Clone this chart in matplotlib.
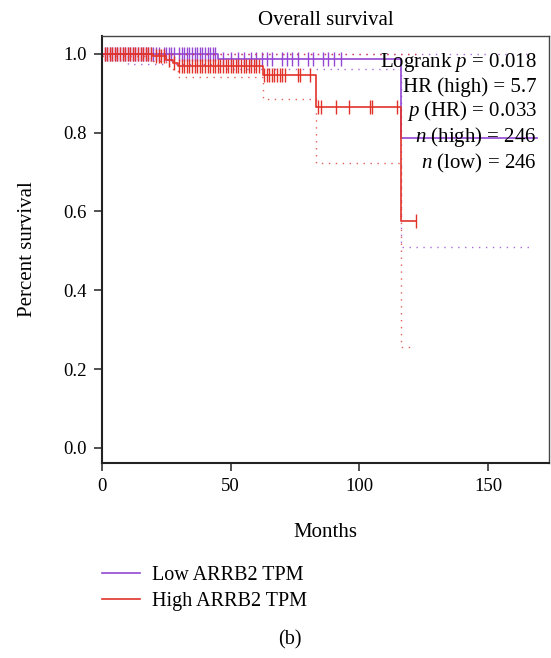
import numpy as np
import matplotlib
matplotlib.use("Agg")
import matplotlib.pyplot as plt
from matplotlib.lines import Line2D

plt.rcParams['font.family'] = ['Liberation Serif', 'DejaVu Serif']
plt.rcParams['mathtext.fontset'] = 'custom'
plt.rcParams['mathtext.it'] = 'Liberation Serif:italic'
plt.rcParams['mathtext.rm'] = 'Liberation Serif'

# ---- data ----
low_times = [0, 45, 116, 169]
low_surv = [1.0, 0.986, 0.787, 0.787]
low_ci_lo_times = [0, 10, 45, 116, 168]
low_ci_lo = [1.0, 0.975, 0.962, 0.51, 0.51]
low_ci_hi_times = [0, 169]
low_ci_hi = [1.0, 1.0]
low_censor = [1, 2, 3, 4, 5, 6, 7, 8, 9, 10, 11, 12, 13, 14, 15, 16, 17, 18, 19, 20,
              21, 22, 24, 25, 26, 27, 28, 30, 31, 32, 33, 34, 35, 36, 37, 38, 39, 40,
              41, 42, 43, 44, 47, 50, 53, 55, 58, 60, 62, 64, 66, 70, 72, 74, 76, 80,
              82, 86, 88, 90, 93]

high_times = [0, 20, 25, 27.5, 29.5, 62.5, 83, 116, 122]
high_surv = [1.0, 0.994, 0.985, 0.976, 0.968, 0.945, 0.865, 0.577, 0.577]
high_ci_lo_times = [0, 20, 25, 27.5, 29.5, 62.5, 83, 116, 119.5]
high_ci_lo = [0.995, 0.982, 0.968, 0.955, 0.942, 0.885, 0.722, 0.255, 0.255]
high_ci_hi_times = [0, 122]
high_ci_hi = [1.0, 1.0]
high_censor = [1, 2, 3, 4, 5, 6, 7, 8, 9, 10, 11, 12, 13, 14, 15, 16, 17, 18, 19,
               21, 22, 23, 24, 26, 28, 30, 31, 32, 33, 34, 35, 36, 37, 38, 39, 40, 41,
               42, 43, 44, 45, 46, 47, 48, 49, 50, 51, 52, 53, 54, 55, 56, 57, 58, 59,
               60, 61, 63, 64, 65, 66, 67, 68, 69, 70, 71, 76, 77, 81, 84, 85, 91, 96,
               104, 105, 114.5, 122]

stats_lines = [r"Logrank $p$ = 0.018", "HR (high) = 5.7", r"$p$ (HR) = 0.033",
               r"$n$ (high) = 246", r"$n$ (low) = 246"]
labels = ["Low ARRB2 TPM", "High ARRB2 TPM"]
colors = ["#9447D3", "#E2332A"]

fig = plt.figure(figsize=(5.51, 6.58), dpi=100)
ax = fig.add_axes([0.1851, 0.2964, 0.8113, 0.6489])

def step_val(times, vals, t):
    i = np.searchsorted(times, t, side='right') - 1
    return np.asarray(vals)[i]

groups = [
    (low_times, low_surv, low_ci_lo_times, low_ci_lo, low_ci_hi_times, low_ci_hi, low_censor, colors[0]),
    (high_times, high_surv, high_ci_lo_times, high_ci_lo, high_ci_hi_times, high_ci_hi, high_censor, colors[1]),
]
for (t, s, tl, cl, th, ch, cens, c) in groups:
    ax.step(tl, cl, where='post', color=c, lw=1.0, ls=(0, (1, 4)), alpha=0.8)
    ax.step(th, ch, where='post', color=c, lw=1.0, ls=(0, (1, 4)), alpha=0.8)
    ax.step(t, s, where='post', color=c, lw=1.2)
    cy = [step_val(t, s, x) for x in cens]
    ax.plot(cens, cy, ls='none', marker='|', ms=10, mew=1.0, color=c)

ax.set_xlim(0, 173.7)
ax.set_ylim(-0.038, 1.045)
ax.set_xticks([0, 50, 100, 150])
ax.set_yticks([0.0, 0.2, 0.4, 0.6, 0.8, 1.0])
ax.set_yticklabels([f"{v:.1f}" for v in [0.0, 0.2, 0.4, 0.6, 0.8, 1.0]])
ax.tick_params(labelsize=13.5, length=6, width=1.2, color='#333333', pad=5)
for side in ['left', 'bottom']:
    ax.spines[side].set_linewidth(1.5)
    ax.spines[side].set_color('#222222')
for side in ['top', 'right']:
    ax.spines[side].set_linewidth(1.0)
    ax.spines[side].set_color('#444444')

ax.set_title("Overall survival", fontsize=15, pad=8)
ax.set_xlabel("Months", fontsize=15, labelpad=20)
ax.set_ylabel("Percent survival", fontsize=15, labelpad=19)

ys = [62, 87, 111, 137, 163]
for txt, yp in zip(stats_lines, ys):
    fig.text(537 / 551, 1 - yp / 658, txt, ha='right', va='center', fontsize=15)

handles = [Line2D([], [], color=c, lw=1.2) for c in colors]
fig.legend(handles, labels, loc='upper left', bbox_to_anchor=(102 / 551, 1 - 566 / 658),
           frameon=False, fontsize=14.5, handlelength=1.9, handletextpad=0.6,
           labelspacing=0.35, borderpad=0, borderaxespad=0)
fig.text(290 / 551, 1 - 640 / 658, "(b)", ha='center', va='center', fontsize=14.5)

fig.savefig("out.png", dpi=100)
